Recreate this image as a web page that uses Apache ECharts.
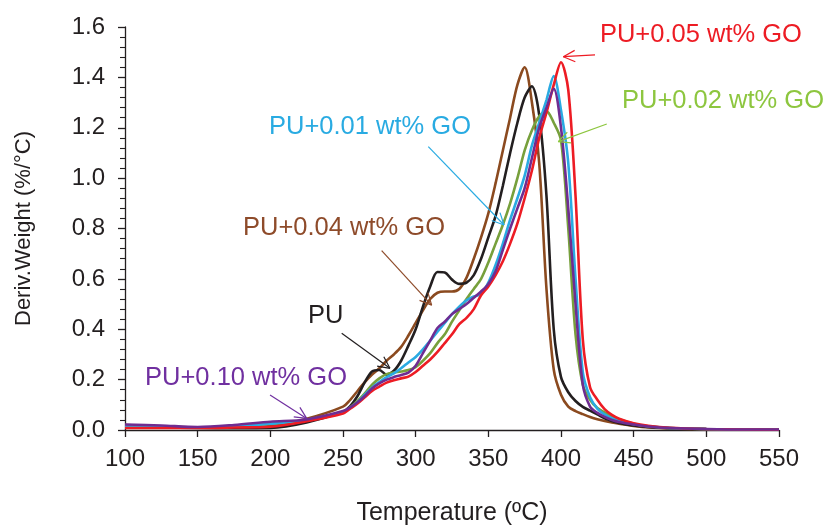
<!DOCTYPE html>
<html>
<head>
<meta charset="utf-8">
<script src="https://cdn.jsdelivr.net/npm/echarts@6/dist/echarts.min.js"></script>
<style>
html,body{margin:0;padding:0;background:#fff;}
#chart{width:827px;height:527px;}
</style>
</head>
<body>
<div id="chart"></div>
<script>
// Temperature grid (°C)
const temps = [100,125,150,175,200,225,250,255,260,265,270,275,280,285,290,295,300,305,310,315,320,325,330,335,340,345,350,355,360,365,370,375,380,385,390,395,400,405,410,415,420,425,430,435,440,450,460,475,500,525,550];

// Derivative weight (%/°C)
const pu     = [0.012,0.01,0.008,0.007,0.008,0.03,0.073,0.095,0.135,0.19,0.232,0.238,0.22,0.235,0.275,0.335,0.40,0.49,0.57,0.627,0.625,0.597,0.58,0.585,0.615,0.68,0.765,0.85,0.97,1.10,1.22,1.32,1.365,1.25,0.93,0.40,0.21,0.15,0.115,0.092,0.077,0.062,0.046,0.036,0.028,0.018,0.012,0.007,0.004,0.002,0.001];
const go004  = [0.02,0.015,0.01,0.01,0.016,0.045,0.093,0.12,0.155,0.19,0.22,0.245,0.275,0.30,0.33,0.375,0.425,0.475,0.52,0.545,0.55,0.55,0.56,0.605,0.68,0.765,0.86,0.98,1.11,1.24,1.37,1.44,1.30,1.06,0.56,0.24,0.14,0.093,0.075,0.063,0.052,0.043,0.036,0.03,0.025,0.016,0.01,0.006,0.003,0.002,0.001];
const go002  = [0.015,0.012,0.01,0.015,0.024,0.04,0.07,0.09,0.115,0.145,0.18,0.205,0.222,0.228,0.232,0.238,0.25,0.275,0.305,0.345,0.38,0.43,0.475,0.52,0.56,0.60,0.665,0.74,0.815,0.90,1.00,1.11,1.19,1.245,1.265,1.22,1.15,0.80,0.38,0.18,0.12,0.087,0.07,0.055,0.043,0.025,0.015,0.008,0.004,0.002,0.001];
const go001  = [0.015,0.012,0.01,0.015,0.025,0.04,0.07,0.088,0.11,0.14,0.168,0.19,0.21,0.225,0.245,0.268,0.29,0.32,0.355,0.39,0.425,0.46,0.49,0.515,0.53,0.54,0.585,0.655,0.74,0.835,0.92,1.01,1.13,1.22,1.31,1.405,1.27,1.06,0.6,0.23,0.13,0.085,0.062,0.047,0.036,0.023,0.015,0.008,0.004,0.002,0.001];
const go010  = [0.022,0.018,0.012,0.02,0.033,0.042,0.075,0.09,0.11,0.135,0.165,0.185,0.2,0.21,0.218,0.228,0.255,0.305,0.355,0.405,0.43,0.46,0.48,0.5,0.525,0.55,0.58,0.63,0.715,0.80,0.88,0.96,1.08,1.20,1.28,1.355,1.2,0.88,0.5,0.18,0.093,0.068,0.052,0.04,0.032,0.022,0.014,0.008,0.004,0.002,0.002];
const go005  = [0.008,0.008,0.008,0.01,0.013,0.035,0.066,0.085,0.105,0.13,0.155,0.172,0.188,0.198,0.205,0.212,0.23,0.255,0.28,0.31,0.345,0.38,0.42,0.445,0.48,0.535,0.57,0.615,0.67,0.74,0.82,0.92,1.03,1.16,1.26,1.37,1.46,1.35,0.93,0.36,0.17,0.12,0.083,0.06,0.045,0.027,0.017,0.009,0.004,0.002,0.001];

// Axis ticks
const xTicks = [100,150,200,250,300,350,400,450,500,550];
const yTicks = [0.0,0.2,0.4,0.6,0.8,1.0,1.2,1.4,1.6];

// Series names
const seriesNames = ['PU+0.04 wt% GO','PU','PU+0.02 wt% GO','PU+0.01 wt% GO','PU+0.05 wt% GO','PU+0.10 wt% GO'];
const seriesValues = [go004, pu, go002, go001, go005, go010];
const lineColors = ['#8b4a1f','#231f20','#77a03c','#2aaae2','#ed1c24','#6f2c91'];

// Annotations (label text, colour, label anchor, arrow start, arrow tip) in data units
const annoTexts  = ['PU+0.05 wt% GO','PU+0.02 wt% GO','PU+0.01 wt% GO','PU+0.04 wt% GO','PU','PU+0.10 wt% GO'];
const annoColors = ['#ed1c24','#8dc63f','#29abe2','#8e4b2a','#231f20','#7030a0'];
const annoLabelAt = [[426.8,1.568],[442.0,1.306],[199.1,1.203],[181.2,0.802],[225.9,0.453],[113.8,0.206]];
const annoFrom    = [[423.4,1.489],[431.5,1.215],[308.7,1.125],[276.6,0.712],[249.1,0.384],[199.8,0.139]];
const annoTo      = [[401.6,1.482],[398.1,1.145],[360.8,0.814],[311.0,0.496],[282.3,0.245],[225.0,0.046]];

const FONT = '"Liberation Sans", Arial, Helvetica, sans-serif';
const TXT = '#231f20';

const chart = echarts.init(document.getElementById('chart'), null, {renderer:'canvas'});

const series = seriesNames.map((name, i) => ({
  name: name,
  type: 'line',
  data: temps.map((t, j) => [t, seriesValues[i][j]]),
  showSymbol: false,
  smooth: 0.3,
  lineStyle: {color: lineColors[i], width: 2.6},
  itemStyle: {color: lineColors[i]},
  z: 2 + i
}));

chart.setOption({
  animation: false,
  backgroundColor: '#ffffff',
  grid: {left: 125, right: 48, top: 27, bottom: 97, containLabel: false, outerBoundsMode: 'none'},
  xAxis: {
    type: 'value',
    min: xTicks[0], max: xTicks[xTicks.length-1], interval: 50,
    name: 'Temperature (ºC)',
    nameLocation: 'middle',
    nameGap: 71,
    nameTextStyle: {fontFamily: FONT, fontSize: 25, color: TXT},
    axisLine: {show: true, lineStyle: {color: TXT, width: 1.3}},
    axisTick: {show: true, inside: false, length: 7, lineStyle: {color: TXT, width: 1.3}},
    axisLabel: {fontFamily: FONT, fontSize: 24, color: TXT, margin: 17},
    splitLine: {show: false}
  },
  yAxis: {
    type: 'value',
    min: yTicks[0], max: yTicks[yTicks.length-1], interval: 0.2,
    name: 'Deriv.Weight (%/°C)',
    nameLocation: 'middle',
    nameGap: 90,
    nameRotate: 90,
    nameTextStyle: {fontFamily: FONT, fontSize: 22, color: TXT},
    axisLine: {show: true, lineStyle: {color: TXT, width: 1.3}},
    axisTick: {show: true, inside: false, length: 7, lineStyle: {color: TXT, width: 1.3}},
    minorTick: {show: true, splitNumber: 5, length: 5, lineStyle: {color: TXT, width: 1.1}},
    axisLabel: {fontFamily: FONT, fontSize: 24, color: TXT, margin: 20, formatter: v => v.toFixed(1)},
    splitLine: {show: false},
    minorSplitLine: {show: false}
  },
  series: series
});

// Annotation graphics
const graphics = [];
const toPx = p => chart.convertToPixel({xAxisIndex: 0, yAxisIndex: 0}, p);
annoTexts.forEach((txt, i) => {
  const lp = toPx(annoLabelAt[i]);
  const a = toPx(annoFrom[i]);
  const b = toPx(annoTo[i]);
  graphics.push({
    type: 'text', x: lp[0], y: lp[1], z: 100,
    style: {text: txt, fill: annoColors[i], font: '25.5px ' + FONT, align: 'left', verticalAlign: 'middle'}
  });
  graphics.push({
    type: 'line', z: 100,
    shape: {x1: a[0], y1: a[1], x2: b[0], y2: b[1]},
    style: {stroke: annoColors[i], lineWidth: 1.2}
  });
  const dx = b[0]-a[0], dy = b[1]-a[1];
  const len = Math.sqrt(dx*dx+dy*dy);
  const ux = dx/len, uy = dy/len;
  const L = 13, ang = 26*Math.PI/180;
  [ang, -ang].forEach(t => {
    const rx = ux*Math.cos(t) - uy*Math.sin(t);
    const ry = ux*Math.sin(t) + uy*Math.cos(t);
    graphics.push({
      type: 'line', z: 100,
      shape: {x1: b[0], y1: b[1], x2: b[0]-L*rx, y2: b[1]-L*ry},
      style: {stroke: annoColors[i], lineWidth: 1.2}
    });
  });
});
chart.setOption({graphic: graphics});
</script>
</body>
</html>
